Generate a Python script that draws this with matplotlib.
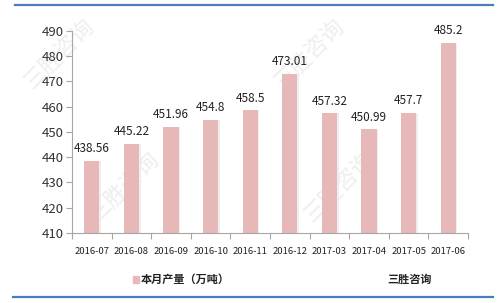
import matplotlib
matplotlib.use("Agg")
import matplotlib.pyplot as plt
from matplotlib.lines import Line2D

plt.rcParams["font.family"] = ["Noto Sans CJK SC", "DejaVu Sans"]

months = ["2016-07", "2016-08", "2016-09", "2016-10", "2016-11", "2016-12",
          "2017-03", "2017-04", "2017-05", "2017-06"]
output = [438.56, 445.22, 451.96, 454.8, 458.5, 473.01, 457.32, 450.99, 457.7, 485.2]
labels = ["438.56", "445.22", "451.96", "454.8", "458.5", "473.01",
          "457.32", "450.99", "457.7", "485.2"]
yticks = [410, 420, 430, 440, 450, 460, 470, 480, 490]

BAR = "#E6B9B8"
GRAY = "#A6A6A6"

fig = plt.figure(figsize=(5.0, 3.03), dpi=100)

# faint watermarks, kept behind the axes
for (wx, wy) in [(0.12, 0.82), (0.62, 0.82), (0.25, 0.38), (0.68, 0.38)]:
    fig.text(wx, wy, "三胜咨询", fontsize=16, rotation=45, color="#DDDDDD",
             alpha=0.5, ha="center", va="center", zorder=-1)

ax = fig.add_axes([0.144, 0.231, 0.792, 0.667])
ax.patch.set_alpha(0)

x = list(range(len(months)))
# faint shadow behind bars
ax.bar([i + 0.04 for i in x], [v - 410 for v in output], bottom=410, width=0.38,
       color="#EEEEEE", zorder=1)
ax.bar(x, [v - 410 for v in output], bottom=410, width=0.38, color=BAR, zorder=2)
for i, (v, s) in enumerate(zip(output, labels)):
    ax.text(i, v + 2.3, s, ha="center", va="bottom", fontsize=8.5, color="#222222")

ax.set_ylim(410, 490)
ax.set_xlim(-0.5, len(months) - 0.5)
ax.set_yticks(yticks)
ax.set_yticklabels([str(t) for t in yticks], fontsize=9.5, color="#333333")
ax.set_xticks([i - 0.5 for i in range(len(months) + 1)], minor=False)
ax.set_xticklabels([])
ax.set_xticks(x, minor=True)
ax.set_xticklabels(months, minor=True, fontsize=6.8, color="#222222")
ax.tick_params(axis="x", which="minor", length=0, pad=10)
ax.tick_params(axis="x", which="major", length=4, direction="out", color=GRAY, width=0.8)
ax.tick_params(axis="y", length=4, direction="out", color=GRAY, width=0.8, pad=2)
for side in ["top", "right"]:
    ax.spines[side].set_visible(False)
for side in ["left", "bottom"]:
    ax.spines[side].set_color(GRAY)
    ax.spines[side].set_linewidth(0.8)

# legend and source
fig.patches.append(plt.Rectangle((0.266, 0.066), 0.012, 0.024, transform=fig.transFigure,
                                 color=BAR))
fig.text(0.282, 0.078, "本月产量（万吨）", fontsize=8, fontweight="bold",
         va="center", ha="left", color="#222222")
fig.text(0.775, 0.078, "三胜咨询", fontsize=8, fontweight="bold",
         va="center", ha="left", color="#222222")

# blue rules at top and bottom
fig.lines.append(Line2D([0.03, 0.986], [0.983, 0.983], transform=fig.transFigure,
                        color="#4A7EBB", lw=1.6))
fig.lines.append(Line2D([0.026, 0.986], [0.021, 0.021], transform=fig.transFigure,
                        color="#4A7EBB", lw=1.6))

fig.savefig("out.png", dpi=100)
